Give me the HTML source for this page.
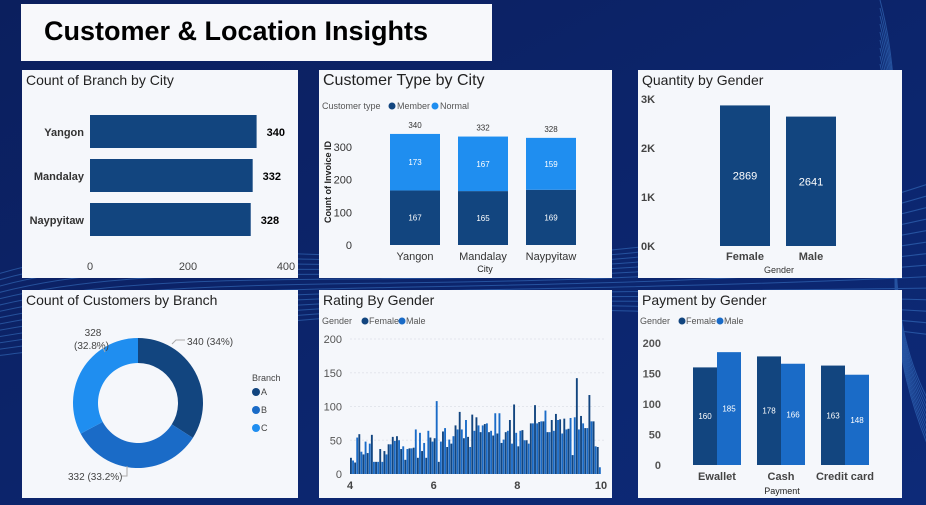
<!DOCTYPE html>
<html><head><meta charset="utf-8"><style>
html,body{margin:0;padding:0;width:926px;height:505px;overflow:hidden;background:#0c2266;font-family:"Liberation Sans",sans-serif}
svg{display:block}
</style></head><body>
<svg id="s" width="926" height="505" xmlns="http://www.w3.org/2000/svg">
<defs><linearGradient id="bg" x1="0" y1="0" x2="1" y2="1"><stop offset="0" stop-color="#0b1f5e"/><stop offset="1" stop-color="#0d2a78"/></linearGradient></defs>
<rect width="926" height="505" fill="url(#bg)"/>
<g id="waves" fill="none" stroke="#3f7fd0" stroke-width="1" opacity="0.5"></g>
<rect x="21" y="4" width="471" height="57" fill="#f7f8fb"/>
<text x="44" y="40" font-size="27" font-weight="bold" fill="#000">Customer &amp; Location Insights</text>
<g id="p"></g>
</svg>
<script>
const NS='http://www.w3.org/2000/svg';
const S=document.getElementById('p');
function el(t,a,txt,par){const e=document.createElementNS(NS,t);for(const k in a)e.setAttribute(k,a[k]);if(txt!==undefined)e.textContent=txt;(par||S).appendChild(e);return e;}
// waves
const W=document.getElementById('waves');
for(let i=0;i<14;i++){const p=el('path',{d:`M ${-20} ${280+i*6} C 200 ${200+i*10}, 500 ${330-i*4}, 940 ${180+i*12}`},undefined,W);}
for(let i=0;i<10;i++){el('path',{d:`M 880 ${0+i*8} C 920 ${150+i*10}, 860 ${300}, 940 ${420+i*6}`},undefined,W);}

const navy='#12457f', mid='#1a6bc7', light='#1f8ef0';
function panel(x,y,w,h,title,name,fs){
  const r=el('rect',{x,y,width:w,height:h,fill:'#f5f7fb'});
  
  const t=el('text',{x:x+4,y:y+15,'font-size':fs||14,fill:'#222'},title);
  
}
panel(22,70,276,208,'Count of Branch by City','branch-by-city-panel');
panel(319,70,293,208,'Customer Type by City','customer-type-panel',16);
panel(638,70,264,208,'Quantity by Gender','quantity-gender-panel');
panel(22,290,276,208,'Count of Customers by Branch','customers-branch-panel');
panel(319,290,293,208,'Rating By Gender','rating-gender-panel');
panel(638,290,264,208,'Payment by Gender','payment-gender-panel');

// ---- Chart 1: Count of Branch by City
const cities=['Yangon','Mandalay','Naypyitaw'];
const branchCounts=[340,332,328];
const c1Ticks=[0,200,400];
{const x0=90,sc=196/400,ys=[115,159,203];
 c1Ticks.forEach(t=>{const e=el('text',{x:x0+t*sc,y:270,'font-size':11,fill:'#444','text-anchor':'middle'},t);});
 branchCounts.forEach((v,i)=>{
  const b=el('rect',{x:x0,y:ys[i],width:v*sc,height:33,fill:navy});
  
  const l=el('text',{x:x0-6,y:ys[i]+21,'font-size':11,'font-weight':'bold',fill:'#333','text-anchor':'end'},cities[i]);
  
  const d=el('text',{x:x0+v*sc+10,y:ys[i]+21,'font-size':11,'font-weight':'bold',fill:'#000'},v);
  
 });}

// ---- Chart 2: Customer Type by City
const memberVals=[167,165,169];
const normalVals=[173,167,159];
const c2Ticks=[0,100,200,300];
{const y0=245,sc=98/300,xs=[390,458,526],bw=50;
 const lg=el('text',{x:322,y:109,'font-size':9,fill:'#555'},'Customer type');
 [['Member',navy,392],['Normal',light,435]].forEach(([n,c,x])=>{el('circle',{cx:x,cy:106,r:3.5,fill:c});const t=el('text',{x:x+5,y:109,'font-size':9,fill:'#555'},n);});
 c2Ticks.forEach(t=>{const e=el('text',{x:352,y:y0-t*sc+4,'font-size':11,fill:'#333','text-anchor':'end'},t);});
 const yt=el('text',{x:0,y:0,'font-size':9,'font-weight':'bold',fill:'#222','text-anchor':'middle',transform:'translate(331,182) rotate(-90)'},'Count of Invoice ID');
 cities.forEach((c,i)=>{
  const m=memberVals[i],n=normalVals[i];
  const b1=el('rect',{x:xs[i],y:y0-m*sc,width:bw,height:m*sc,fill:navy});
  const b2=el('rect',{x:xs[i],y:y0-(m+n)*sc,width:bw,height:n*sc,fill:light});
  el('text',{x:xs[i]+25,y:y0-m*sc/2+3,'font-size':8,fill:'#fff','text-anchor':'middle'},m);
  el('text',{x:xs[i]+25,y:y0-m*sc-n*sc/2+3,'font-size':8,fill:'#fff','text-anchor':'middle'},n);
  el('text',{x:xs[i]+25,y:y0-(m+n)*sc-6,'font-size':8,fill:'#333','text-anchor':'middle'},m+n);
  const l=el('text',{x:xs[i]+25,y:260,'font-size':11,fill:'#333','text-anchor':'middle'},c);
 });
 const xt=el('text',{x:485,y:272,'font-size':9,fill:'#222','text-anchor':'middle'},'City');}

// ---- Chart 3: Quantity by Gender
const genders=['Female','Male'];
const quantities=[2869,2641];
const c3Ticks=[0,1000,2000,3000];
const c3TickLabels=['0K','1K','2K','3K'];
{const y0=246,sc=147/3000,xs=[720,786],bw=50;
 c3Ticks.forEach((t,i)=>{const e=el('text',{x:641,y:y0-t*sc+4,'font-size':11,'font-weight':'bold',fill:'#444'},c3TickLabels[i]);});
 quantities.forEach((v,i)=>{
  const b=el('rect',{x:xs[i],y:y0-v*sc,width:bw,height:v*sc,fill:navy});
  el('text',{x:xs[i]+25,y:y0-v*sc/2+4,'font-size':11,fill:'#fff','text-anchor':'middle'},v);
  const l=el('text',{x:xs[i]+25,y:260,'font-size':11,'font-weight':'bold',fill:'#444','text-anchor':'middle'},genders[i]);
 });
 const xt=el('text',{x:779,y:273,'font-size':9,fill:'#333','text-anchor':'middle'},'Gender');}

// ---- Chart 4: Donut
const branches=['A','B','C'];
const branchCust=[340,332,328];
const branchLabels=['340 (34%)','332 (33.2%)','328 (32.8%)'];
{const cx=138,cy=403,R=65,r=40,cols=[navy,mid,light];const tot=branchCust.reduce((a,b)=>a+b,0);let a0=-Math.PI/2;
 branchCust.forEach((v,i)=>{const a1=a0+v/tot*2*Math.PI;const lg=(a1-a0)>Math.PI?1:0;
  const p=(ang,rad)=>[cx+rad*Math.cos(ang),cy+rad*Math.sin(ang)];
  const [x1,y1]=p(a0,R),[x2,y2]=p(a1,R),[x3,y3]=p(a1,r),[x4,y4]=p(a0,r);
  const s=el('path',{d:`M${x1},${y1}A${R},${R} 0 ${lg} 1 ${x2},${y2}L${x3},${y3}A${r},${r} 0 ${lg} 0 ${x4},${y4}Z`,fill:cols[i]});
  
  a0=a1;});
 const lbl=[[187,345,'start',branchLabels[0]],[68,480,'start',branchLabels[1]]];
 lbl.forEach(([x,y,an,t])=>{const e=el('text',{x,y,'font-size':10,fill:'#444','text-anchor':an},t);});
 el('text',{x:93,y:336,'font-size':10,fill:'#444','text-anchor':'middle'},'328');el('text',{x:74,y:349,'font-size':10,fill:'#444'},'(32.8%)');
 el('path',{d:'M172 344 L176 340 L185 340',stroke:'#aaa',fill:'none'});
 el('path',{d:'M95 346 L102 346 L105 352',stroke:'#aaa',fill:'none'});
 el('path',{d:'M127 466 L127 476 L122 476',stroke:'#aaa',fill:'none'});
 const lt=el('text',{x:252,y:381,'font-size':9,fill:'#444'},'Branch');
 branches.forEach((b,i)=>{el('circle',{cx:256,cy:392+i*18,r:4,fill:cols[i]});const t=el('text',{x:261,y:395+i*18,'font-size':9,fill:'#444'},b);});}

// ---- Chart 5: Rating by Gender
const ratings=[4.0,4.1,4.2,4.3,4.4,4.5,4.6,4.7,4.8,4.9,5.0,5.1,5.2,5.3,5.4,5.5,5.6,5.7,5.8,5.9,6.0,6.1,6.2,6.3,6.4,6.5,6.6,6.7,6.8,6.9,7.0,7.1,7.2,7.3,7.4,7.5,7.6,7.7,7.8,7.9,8.0,8.1,8.2,8.3,8.4,8.5,8.6,8.7,8.8,8.9,9.0,9.1,9.2,9.3,9.4,9.5,9.6,9.7,9.8,9.9];
const femaleRating=[24,17,59,29,31,58,18,37,34,44,55,56,37,21,38,39,24,34,24,54,53,18,63,40,45,72,92,53,55,88,84,62,74,62,57,60,46,62,80,103,41,65,50,75,102,77,78,62,80,89,81,82,67,28,142,86,68,117,78,40];
const maleRating=[20,54,33,48,45,18,18,18,29,44,49,50,41,37,38,66,61,46,64,48,108,48,68,51,56,66,66,80,40,64,72,72,75,64,90,90,51,64,45,61,64,50,45,75,75,78,94,62,64,80,60,66,83,84,66,75,68,78,41,10];
const c5Ticks=[0,50,100,150,200];
const c5XTicks=[4,6,8,10];
{const y0=474,sy=135/200,x0=350,sx=(601-350)/6,bw=sx*0.1/2;
 el('text',{x:322,y:324,'font-size':9,fill:'#555'},'Gender');
 [['Female',navy,365],['Male',mid,402]].forEach(([n,c,x])=>{el('circle',{cx:x,cy:321,r:3.5,fill:c});const t=el('text',{x:x+4,y:324,'font-size':9,fill:'#555'},n);});
 c5Ticks.forEach(t=>{const e=el('text',{x:342,y:y0-t*sy+4,'font-size':11,fill:'#555','text-anchor':'end'},t);
  if(t>0)el('line',{x1:350,x2:604,y1:y0-t*sy,y2:y0-t*sy,stroke:'#e3e6ec','stroke-dasharray':'2,2'});});
 c5XTicks.forEach(t=>{const e=el('text',{x:x0+(t-4)*sx,y:489,'font-size':11,'font-weight':'bold',fill:'#444','text-anchor':'middle'},t);});
 ratings.forEach((r,i)=>{const x=x0+(r-4)*sx;
  const f=el('rect',{x:x,y:y0-femaleRating[i]*sy,width:bw*0.9,height:femaleRating[i]*sy,fill:navy});
  const m=el('rect',{x:x+bw,y:y0-maleRating[i]*sy,width:bw*0.9,height:maleRating[i]*sy,fill:mid});
 });}

// ---- Chart 6: Payment by Gender
const payments=['Ewallet','Cash','Credit card'];
const payFemale=[160,178,163];
const payMale=[185,166,148];
const c6Ticks=[0,50,100,150,200];
{const y0=465,sc=122/200,cxs=[717,781,845],bw=24;
 el('text',{x:640,y:324,'font-size':9,fill:'#555'},'Gender');
 [['Female',navy,682],['Male',mid,720]].forEach(([n,c,x])=>{el('circle',{cx:x,cy:321,r:3.5,fill:c});const t=el('text',{x:x+4,y:324,'font-size':9,fill:'#555'},n);});
 c6Ticks.forEach(t=>{const e=el('text',{x:661,y:y0-t*sc+4,'font-size':11,'font-weight':'bold',fill:'#555','text-anchor':'end'},t);});
 payments.forEach((p,i)=>{
  const f=payFemale[i],m=payMale[i];
  const b1=el('rect',{x:cxs[i]-bw,y:y0-f*sc,width:bw,height:f*sc,fill:navy});
  const b2=el('rect',{x:cxs[i],y:y0-m*sc,width:bw,height:m*sc,fill:mid});
  el('text',{x:cxs[i]-bw/2,y:y0-f*sc/2+3,'font-size':8,fill:'#fff','text-anchor':'middle'},f);
  el('text',{x:cxs[i]+bw/2,y:y0-m*sc/2+3,'font-size':8,fill:'#fff','text-anchor':'middle'},m);
  const l=el('text',{x:cxs[i],y:480,'font-size':11,'font-weight':'bold',fill:'#444','text-anchor':'middle'},p);
 });
 const xt=el('text',{x:782,y:494,'font-size':9,fill:'#222','text-anchor':'middle'},'Payment');}
</script>
</body></html>
